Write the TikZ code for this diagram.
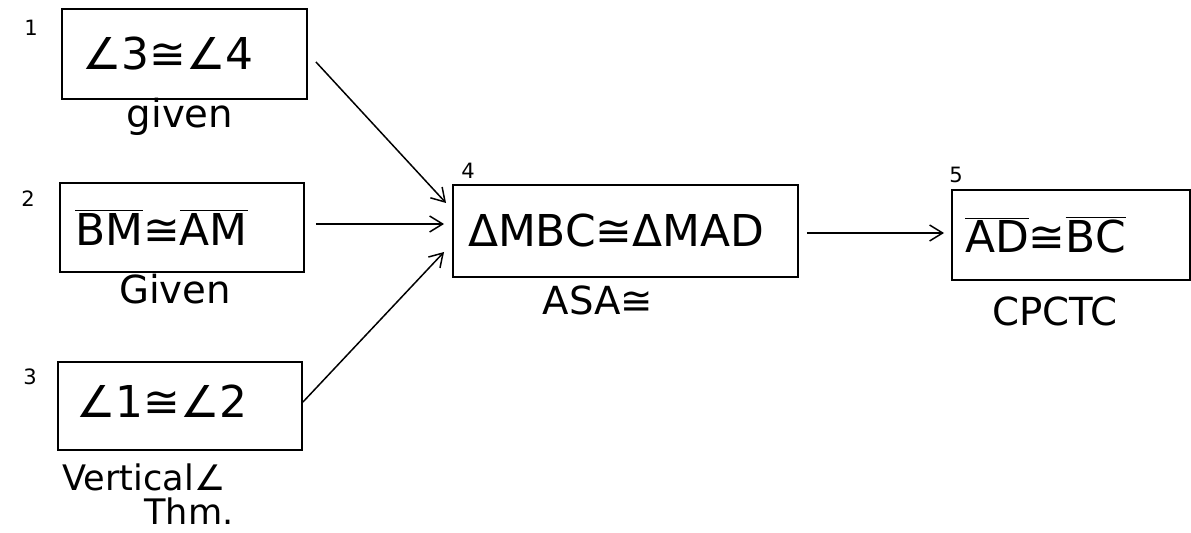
\documentclass[tikz,border=0pt]{standalone}
\usepackage{fontspec}
\setmainfont{DejaVu Sans}
\usetikzlibrary{calc,arrows.meta}
\newcommand\seg[1]{$\overline{\hbox{#1}}$}
\tikzset{
  stmt/.style={draw, line width=1.1pt, align=left, inner xsep=0pt, inner ysep=0pt,
    font=\fontsize{25}{29}\selectfont},
  reason/.style={font=\fontsize{22}{26}\selectfont, inner sep=0pt, align=center},
  smallreason/.style={font=\fontsize{20}{24}\selectfont, inner sep=0pt, align=center},
  stepnum/.style={font=\fontsize{12}{14}\selectfont, inner sep=0pt},
  flow/.style={line width=0.85pt, -{Straight Barb[length=2.6mm,width=3.2mm,line width=0.85pt]}}
}
\begin{document}
\begin{tikzpicture}[x=0.02cm,y=-0.02cm]
  \useasboundingbox (0,0) rectangle (1191,533);
  % statements
  \node[stmt, minimum width=245*0.02cm, minimum height=90*0.02cm, text width=205*0.02cm]
    (b1) at (184.5,54) {∠3≅∠4};
  \node[stmt, minimum width=244*0.02cm, minimum height=89*0.02cm, text width=214*0.02cm]
    (b2) at (182,227.5) {\seg{BM}≅\seg{AM}};
  \node[stmt, minimum width=244*0.02cm, minimum height=88*0.02cm, text width=208*0.02cm]
    (b3) at (180,406) {\raisebox{6pt}{∠1≅∠2}};
  \node[stmt, minimum width=345*0.02cm, minimum height=92*0.02cm, text width=315*0.02cm]
    (b4) at (625.5,231) {ΔMBC≅ΔMAD};
  \node[stmt, minimum width=238*0.02cm, minimum height=90*0.02cm, text width=212*0.02cm]
    (b5) at (1071,235) {\seg{AD}≅\seg{BC}};
  % step numbers
  \node[stepnum] (n1) at (31,28) {1};
  \node[stepnum] (n2) at (28,199) {2};
  \node[stepnum] (n3) at (30,377) {3};
  \node[stepnum] (n4) at (468,171) {4};
  \node[stepnum] (n5) at (956,175) {5};
  % reasons
  \node[reason] (r1) at (180,117) {given};
  \node[reason] (r2) at (175,289) {Given};
  \node[smallreason] (r3a) at (144,477) {Vertical∠};
  \node[smallreason] (r3b) at (189,511) {Thm.};
  \node[reason] (r4) at (598,300) {ASA≅};
  \node[reason] (r5) at (1055,311) {CPCTC};
  % connectors
  \draw[flow] ($(b1.east)+(8,8)$) -- ($(b4.west)+(-6,-28)$);
  \draw[flow] ($(b2.east)+(11,-3.5)$) -- ($(b4.west)+(-8,-7)$);
  \draw[flow] ($(b3.east)+(0,-4)$) -- ($(b4.west)+(-8,21)$);
  \draw[flow] ($(b4.east)+(8,2)$) -- ($(b5.west)+(-7,-2)$);
\end{tikzpicture}
\end{document}
